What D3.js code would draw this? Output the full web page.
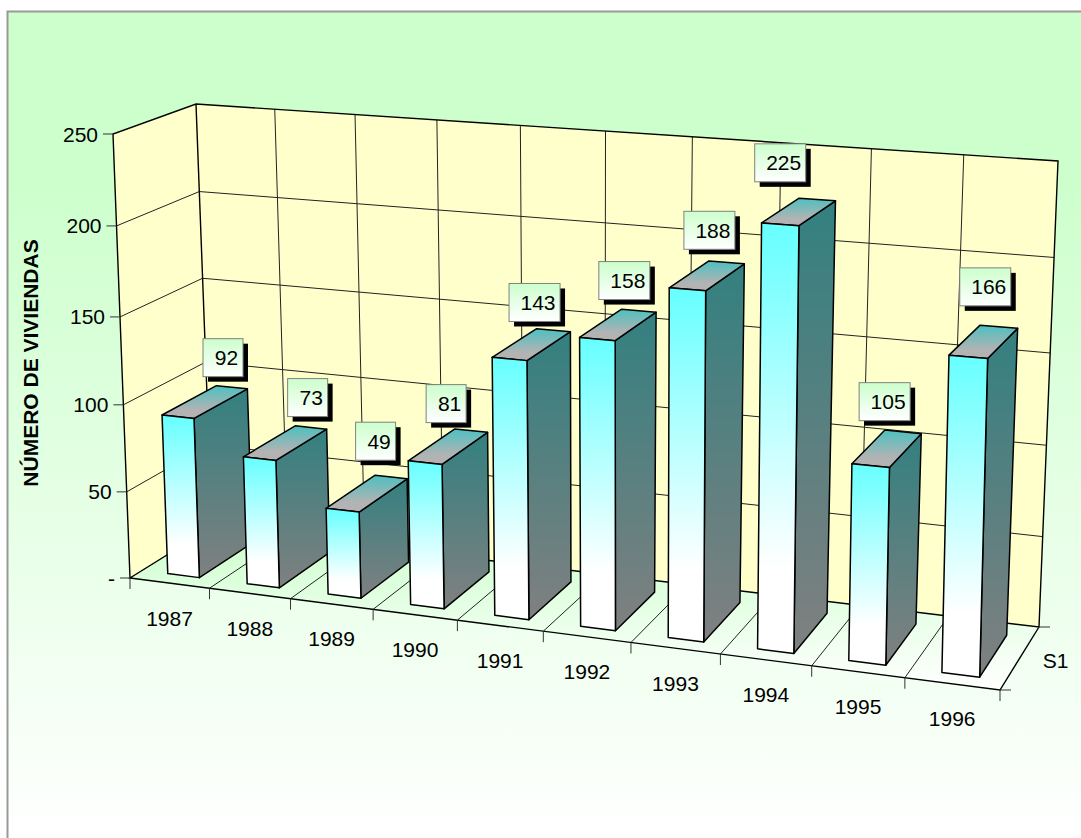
<!DOCTYPE html>
<html><head><meta charset="utf-8">
<style>html,body{margin:0;padding:0;background:#fff;overflow:hidden}svg{display:block}text{font-family:"Liberation Sans",Arial,sans-serif;fill:#000}</style>
<script src="https://cdn.jsdelivr.net/npm/d3@7"></script></head><body>
<script>
const years = ["1987","1988","1989","1990","1991","1992","1993","1994","1995","1996"];
const values = [92,73,49,81,143,158,188,225,105,166];
const valueTicks = [0,50,100,150,200,250];
const valueTickLabels = ["-","50","100","150","200","250"];
const yTitle = "NÚMERO DE VIVIENDAS";
const seriesName = "S1";
// label placement relative to the top of each bar
const labelDx = [45,48,33,21,25,27,22,0,14,17];
const labelDy = [-59,-61,-69,-59,-56.5,-58.5,-59,-61.5,-64,-70];

const W=1081,H=838;
// scene box corners on screen
const corners={ f0b:[130,578], f1b:[1000,690], b0b:[212,527], b1b:[1039,627],
                f0t:[113,134], f1t:[1012,197], b0t:[196,104], b1t:[1058,161] };
const svg=d3.select("body").append("svg").attr("width",W).attr("height",H);
const defs=svg.append("defs");
function grad(id,stops,attrs){const g=defs.append("linearGradient").attr("id",id).attr("x1",0).attr("x2",0).attr("y1",0).attr("y2",1);
  if(attrs)Object.entries(attrs).forEach(([k,v])=>g.attr(k,v));
  stops.forEach(([o,c])=>g.append("stop").attr("offset",o).attr("stop-color",c));}
grad("bg",[[0,"#ccffcc"],[.2,"#ccffcc"],[1,"#ffffff"]]);
grad("floor",[[0,"#ccffcc"],[1,"#ffffff"]],{gradientUnits:"userSpaceOnUse",x1:0,x2:0,y1:530,y2:690});
grad("front",[[0,"#66ffff"],[.8,"#ffffff"],[1,"#ffffff"]]);
grad("side",[[0,"#338080"],[1,"#808080"]]);
grad("top",[[0,"#4dc0c0"],[.75,"#b3b3b3"],[1,"#b3b3b3"]]);
grad("lab",[[0,"#ccffcc"],[1,"#ffffff"]]);

// scales: category band (0..1), perspective along the x axis, value height, depth
const band=d3.scaleBand().domain(years).range([.0025,1.0025]).paddingInner(.6).paddingOuter(.3);
const slot=d3.scaleLinear().domain([0,years.length]).range([0,1]);
const persp=t=>t*.905/(1-.095*t);
const vScale=d3.scaleLinear().domain(valueTicks).range([0,.194,.39,.588,.793,1]);
const depth=d3.scaleLinear().domain([0,1]).range([0,1]);
function project(t,val,w){
  const u=persp(t),v=vScale(val),z=depth(w);
  const mix=(a,b,k)=>[a[0]+(b[0]-a[0])*k,a[1]+(b[1]-a[1])*k];
  const fb=mix(corners.f0b,corners.f1b,u),bb=mix(corners.b0b,corners.b1b,u),
        ft=mix(corners.f0t,corners.f1t,u),bt=mix(corners.b0t,corners.b1t,u);
  return mix(mix(fb,bb,z),mix(ft,bt,z),v);
}
const vMax=d3.max(valueTicks);
const line=d3.line();
const poly=pts=>line(pts)+"Z";

svg.append("rect").attr("x",8).attr("y",12).attr("width",W-8).attr("height",H-12).attr("fill","url(#bg)");
svg.append("path").attr("d",`M7.5,${H}V11.5H${W}`).attr("fill","none").attr("stroke","#999").attr("stroke-width",2);

// walls + floor
svg.append("path").attr("d",poly([project(0,0,0),project(0,vMax,0),project(0,vMax,1),project(0,0,1)])).attr("fill","#ffffcc");
svg.append("path").attr("d",poly([project(0,0,1),project(0,vMax,1),project(1,vMax,1),project(1,0,1)])).attr("fill","#ffffcc");
svg.append("path").attr("d",poly([project(0,0,0),project(1,0,0),project(1,0,1),project(0,0,1)])).attr("fill","url(#floor)");

const gridG=svg.append("g").attr("fill","none").attr("stroke","#222").attr("stroke-width",1);
valueTicks.slice(1,-1).forEach(v=>{
  gridG.append("path").attr("d",line([project(0,v,0),project(0,v,1),project(1,v,1)]));
});
d3.range(1,years.length).forEach(i=>{
  const t=slot(i);
  gridG.append("path").attr("d",line([project(t,0,0),project(t,0,1),project(t,vMax,1)]));
});
const edge=svg.append("g").attr("fill","none").attr("stroke","#000").attr("stroke-width",1.4);
edge.append("path").attr("d",line([project(0,0,0),project(0,vMax,0),project(0,vMax,1),project(1,vMax,1),project(1,0,1),project(0,0,1),project(0,0,0),project(1,0,0),project(1,0,1)]));
edge.append("path").attr("d",line([project(0,0,1),project(0,vMax,1)]));

// ticks
const tickG=svg.append("g").attr("fill","none").attr("stroke","#333").attr("stroke-width",1);
valueTicks.forEach(v=>{const p=project(0,v,0);tickG.append("path").attr("d",line([[p[0]-10,p[1]],p]));});
d3.range(0,years.length+1).forEach(i=>{const p=project(slot(i),0,0);tickG.append("path").attr("d",line([p,[p[0],p[1]+11]]));});
[0,1].forEach(w=>{const p=project(1,0,w);tickG.append("path").attr("d",line([p,[p[0]+11,p[1]]]));});

const axisText=svg.append("g").attr("font-size",21);
valueTicks.forEach((v,i)=>{const p=project(0,v,0);
  axisText.append("text").attr("x",p[0]-15).attr("y",p[1]+7.5).attr("text-anchor","end").text(valueTickLabels[i]);});
years.forEach((y,i)=>{const p=project(slot(i+.5),0,0);
  axisText.append("text").attr("x",p[0]).attr("y",p[1]+42.5).attr("text-anchor","middle").text(y);});
{const p=project(1,0,.5);axisText.append("text").attr("x",p[0]+36).attr("y",p[1]+9.5).attr("text-anchor","middle").text(seriesName);}
svg.append("text").attr("transform","translate(38,363) rotate(-90)").attr("text-anchor","middle").attr("font-size",21).attr("font-weight","bold").text(yTitle);

// bars
const w0=.15,w1=.82;
const bars=svg.append("g").attr("stroke","#000").attr("stroke-width",1.5).attr("stroke-linejoin","round");
years.forEach((y,i)=>{
  const a=band(y),b=a+band.bandwidth(),v=values[i];
  const g=bars.append("g");
  g.append("path").attr("fill","url(#side)").attr("d",poly([project(b,v,w0),project(b,v,w1),project(b,0,w1),project(b,0,w0)]));
  g.append("path").attr("fill","url(#top)").attr("d",poly([project(a,v,w0),project(a,v,w1),project(b,v,w1),project(b,v,w0)]));
  g.append("path").attr("fill","url(#front)").attr("d",poly([project(a,v,w0),project(b,v,w0),project(b,0,w0),project(a,0,w0)]));
});
// data labels
const labs=svg.append("g");
years.forEach((y,i)=>{
  const a=band(y),c=a+band.bandwidth()/2,v=values[i],p=project(c,v,w0);
  const cx=p[0]+labelDx[i],cy=p[1]+labelDy[i],str=String(v),bw=str.length>2?51:40,bh=38;
  const g=labs.append("g");
  g.append("rect").attr("x",cx-bw/2+5).attr("y",cy-bh/2+5).attr("width",bw).attr("height",bh).attr("fill","#000");
  g.append("rect").attr("x",cx-bw/2).attr("y",cy-bh/2).attr("width",bw).attr("height",bh).attr("fill","url(#lab)").attr("stroke","#808080").attr("stroke-width",1);
  g.append("text").attr("x",cx+3.5).attr("y",cy+7.5).attr("text-anchor","middle").attr("font-size",21).text(str);
});
</script></body></html>
